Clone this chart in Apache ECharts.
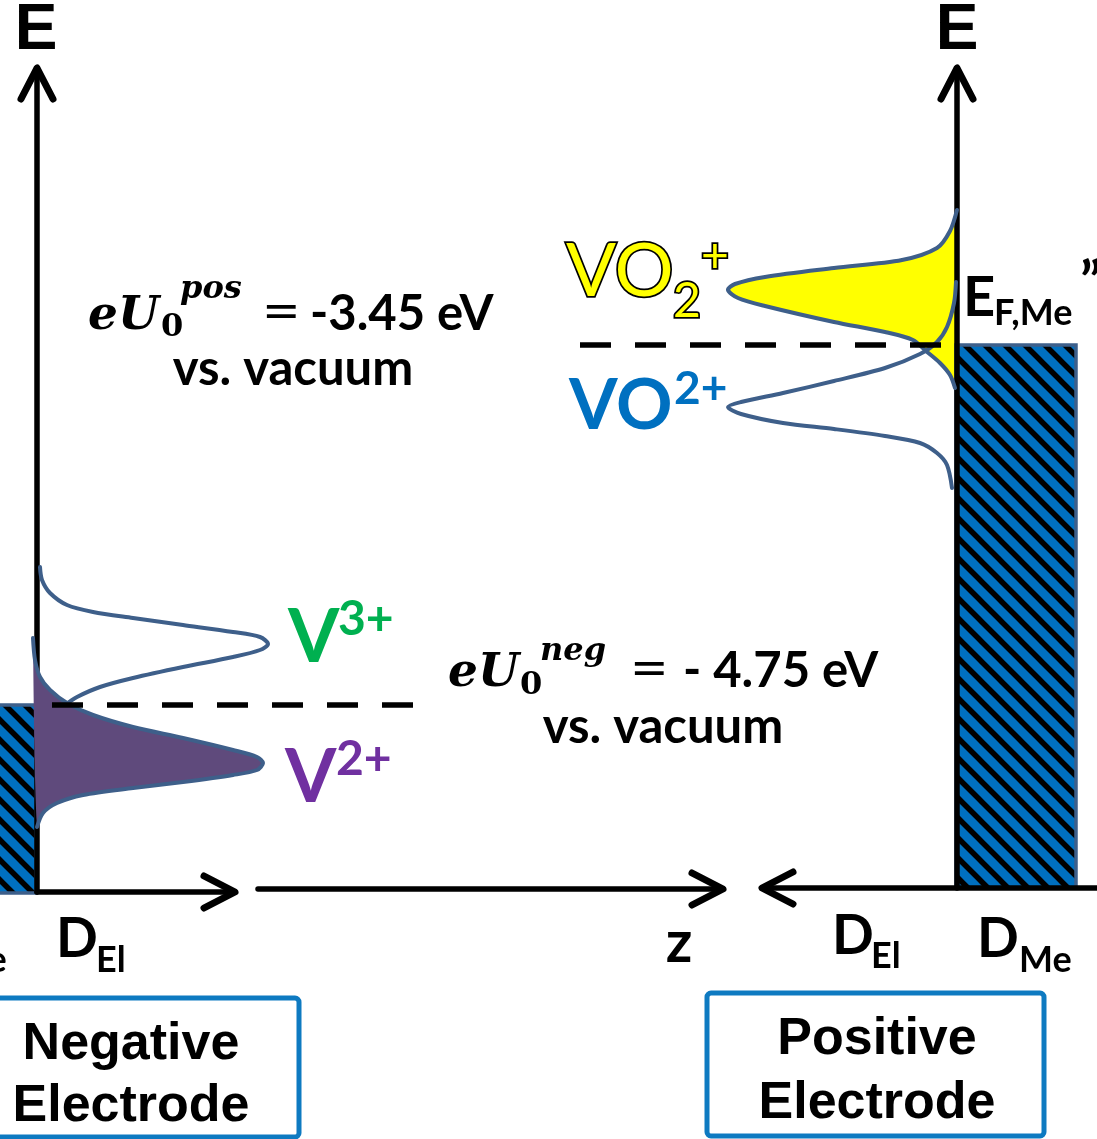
<!DOCTYPE html>
<html><head><meta charset="utf-8">
<script src="https://cdn.jsdelivr.net/npm/echarts@6/dist/echarts.min.js"></script>
<style>html,body{margin:0;padding:0;background:#fff;overflow:hidden}#chart{width:1097px;height:1139px}</style>
</head><body><div id="chart"></div>
<script>
// Diagram space: x = position along z, y = depth below top of diagram (energy decreases downward)
const xDomain = [0, 1097];
const yDomain = [0, 1139];

// Axis arrows: [xTail, yTail, xHead, yHead]
const axisArrows = [
  [37, 892, 37, 68],
  [957, 888, 957, 68],
  [37, 892, 235, 892],
  [258, 889, 723, 889],
  [1097, 888, 762, 888]
];

// Equilibrium potential levels (dashed): [xStart, xEnd, y]
const potentialLevels = [
  [580, 946, 345],
  [52, 415, 705]
];

// Metal electrode bands: [xLeft, xRight, yTop, yBottom]
const metalBands = [
  [-10, 36, 705, 893],
  [956, 1076, 345, 888]
];

// Density-of-states curves, points [x, y]
const dosVO2plus = [[957,210],[950,231],[937,248],[902,260],[834,268],[765,277],[735,284],[728,290],[738,298],[765,306],[834,322],[885,332],[913,340],[926,351],[940,363],[950,375],[955,388]];
const dosVO2p = [[956,282],[954,303],[947,327],[937,342],[920,354],[885,368],[834,381],[783,393],[741,402],[728,407],[741,414],[783,423],[834,429],[885,436],[920,443],[937,453],[947,465],[952,488]];
const dosV3 = [[40,567],[42,580],[50,593],[67,605],[93,612],[133,618],[183,625],[233,632],[260,637],[268,644],[260,650],[233,657],[183,667],[133,678],[100,687],[77,697],[65,705]];
const dosV2 = [[33,638],[35,660],[40,677],[50,690],[67,703],[93,715],[133,727],[183,738],[233,750],[257,757],[263,763],[257,770],[233,775],[183,782],[133,788],[83,795],[57,803],[43,813],[37,827]];

// Electrode caption boxes: [xLeft, xRight, yTop, yBottom]
const electrodeBoxes = [
  [-10, 299, 998, 1137],
  [707, 1044, 993, 1136]
];

// Text annotations: [text, x, y, styleKey, align]
const labels = [
  ['E', 36, 31, 'axis', 'center'],
  ['E', 957, 31, 'axis', 'center'],
  ['D', -88, 939, 'dBig', 'left'], ['Me', -46, 960, 'dSub', 'left'],
  ['D', 56, 939, 'dBig', 'left'], ['El', 96, 960, 'dSub', 'left'],
  ['z', 679, 943, 'zLbl', 'center'],
  ['D', 832, 936, 'dBig', 'left'], ['El', 871, 956, 'dSub', 'left'],
  ['D', 977, 939, 'dBig', 'left'], ['Me', 1019, 960, 'dSub', 'left'],
  ['VO', 566, 272, 'voYellow', 'left'], ['2', 673, 302, 'voYellowSub', 'left'], ['+', 701, 257, 'voYellowSub', 'left'],
  ['VO', 569, 406, 'voBlue', 'left'], ['2+', 674, 389, 'voBlueSup', 'left'],
  ['E', 963, 298, 'efBig', 'left'], ['F,Me', 994, 313, 'efSub', 'left'], ['\u201D', 1080, 283, 'efBig', 'left'],
  ['V', 288, 638, 'vGreen', 'left'], ['3+', 338, 620, 'vGreenSup', 'left'],
  ['V', 285, 778, 'vPurple', 'left'], ['2+', 336, 760, 'vPurpleSup', 'left'],
  ['eU', 88, 317, 'mathBig', 'left'], ['0', 161, 328, 'mathSub', 'left'], ['pos', 180, 290, 'mathSup', 'left'],
  ['=', 262, 314, 'mathEq', 'left'], ['-3.45 eV', 310, 314, 'eq', 'left'], ['vs. vacuum', 293, 369, 'eq', 'center'],
  ['eU', 448, 674, 'mathBig', 'left'], ['0', 520, 686, 'mathSub', 'left'], ['neg', 540, 652, 'mathSup', 'left'],
  ['=', 630, 671, 'mathEq', 'left'], ['- 4.75 eV', 683, 671, 'eq', 'left'], ['vs. vacuum', 663, 727, 'eq', 'center'],
  ['Negative', 131, 1045, 'box', 'center'], ['Electrode', 131, 1107, 'box', 'center'],
  ['Positive', 877, 1040, 'box', 'center'], ['Electrode', 877, 1104, 'box', 'center']
];

// ---------- styles ----------
const C = {
  axis: '#000', curve: '#3E5F8A', yellow: '#FFFF00', purpleFill: '#5F4A7C',
  metalBlue: '#0070C0', metalEdge: '#3D5F8A', box: '#0E7AC1'
};
const textStyles = {
  axis: { font: 'bold 64px "Liberation Sans", Arial', fill: '#000' },
  dBig: { font: 'bold 55px Lato', fill: '#000' },
  dSub: { font: 'bold 36px Lato', fill: '#000' },
  zLbl: { font: 'bold 58px Lato', fill: '#000' },
  voYellow: { font: '74px Lato', fill: '#FFFF00', stroke: '#000', lineWidth: 3.5 },
  voYellowSub: { font: '48px Lato', fill: '#FFFF00', stroke: '#000', lineWidth: 3.5 },
  voBlue: { font: 'bold 70px Lato', fill: '#0070C0' },
  voBlueSup: { font: 'bold 46px Lato', fill: '#0070C0' },
  efBig: { font: 'bold 56px Lato', fill: '#000' },
  efSub: { font: 'bold 36px Lato', fill: '#000' },
  vGreen: { font: 'bold 74px Lato', fill: '#00B050' },
  vGreenSup: { font: 'bold 48px Lato', fill: '#00B050' },
  vPurple: { font: 'bold 74px Lato', fill: '#7030A0' },
  vPurpleSup: { font: 'bold 48px Lato', fill: '#7030A0' },
  mathBig: { font: 'italic bold 47px "DejaVu Serif"', fill: '#000' },
  mathSub: { font: 'bold 32px "DejaVu Serif"', fill: '#000' },
  mathSup: { font: 'italic bold 32px "DejaVu Serif"', fill: '#000' },
  mathEq: { font: '46px "DejaVu Serif"', fill: '#000' },
  eq: { font: 'bold 49px Lato', fill: '#000' },
  box: { font: 'bold 52px "Liberation Sans", Arial', fill: '#000' }
};

function hatchPattern() {
  const s = 20;
  const cv = document.createElement('canvas');
  cv.width = s; cv.height = s;
  const g = cv.getContext('2d');
  g.fillStyle = C.metalBlue; g.fillRect(0, 0, s, s);
  g.strokeStyle = '#000'; g.lineWidth = 5.5;
  g.beginPath();
  for (let k = -1; k <= 1; k++) { g.moveTo(-3, k * s - 3); g.lineTo(s + 3, k * s + s + 3); }
  g.stroke();
  return { image: cv, repeat: 'repeat' };
}
const hatch = hatchPattern();

function custom(z, data, renderItem) {
  return { type: 'custom', coordinateSystem: 'cartesian2d', z: z, data: data, renderItem: renderItem,
           clip: false, silent: true, animation: false };
}
function mapPts(api, pts) { return pts.map(p => api.coord(p)); }

function fillSeries(z, pts, color) {
  return custom(z, [[pts[0][0], pts[0][1]]], (params, api) => ({
    type: 'polygon', shape: { points: mapPts(api, pts), smooth: 0.3 },
    style: { fill: color, stroke: null }
  }));
}
function outlineSeries(z, pts) {
  return custom(z, [[pts[0][0], pts[0][1]]], (params, api) => ({
    type: 'polyline', shape: { points: mapPts(api, pts), smooth: 0.3 },
    style: { fill: null, stroke: C.curve, lineWidth: 4, lineJoin: 'round', lineCap: 'round' }
  }));
}

const option = {
  animation: false,
  grid: { left: 0, right: 0, top: 0, bottom: 0 },
  xAxis: { type: 'value', min: xDomain[0], max: xDomain[1], show: false },
  yAxis: { type: 'value', min: yDomain[0], max: yDomain[1], inverse: true, show: false },
  series: [
    fillSeries(1, dosVO2plus, C.yellow),
    custom(2, metalBands, (params, api) => {
      const a = api.coord([api.value(0), api.value(2)]);
      const b = api.coord([api.value(1), api.value(3)]);
      return { type: 'rect', shape: { x: a[0], y: a[1], width: b[0] - a[0], height: b[1] - a[1] },
               style: { fill: hatch, stroke: C.metalEdge, lineWidth: 3.5 } };
    }),
    custom(3, axisArrows, (params, api) => {
      const a = api.coord([api.value(0), api.value(1)]);
      const b = api.coord([api.value(2), api.value(3)]);
      const dx = b[0] - a[0], dy = b[1] - a[1], L = Math.hypot(dx, dy);
      const ux = dx / L, uy = dy / L, hl = 31, hw = 16;
      const w1 = [b[0] - ux * hl - uy * hw, b[1] - uy * hl + ux * hw];
      const w2 = [b[0] - ux * hl + uy * hw, b[1] - uy * hl - ux * hw];
      return { type: 'group', children: [
        { type: 'line', shape: { x1: a[0], y1: a[1], x2: b[0], y2: b[1] },
          style: { stroke: C.axis, lineWidth: 5.5, lineCap: 'round' } },
        { type: 'polyline', shape: { points: [w1, b, w2] },
          style: { stroke: C.axis, lineWidth: 7, lineCap: 'round', lineJoin: 'round', fill: null } }
      ] };
    }),
    fillSeries(4, dosV2, C.purpleFill),
    outlineSeries(5, dosVO2plus),
    outlineSeries(5, dosVO2p),
    outlineSeries(5, dosV3),
    outlineSeries(5, dosV2),
    custom(6, potentialLevels, (params, api) => {
      const a = api.coord([api.value(0), api.value(2)]);
      const b = api.coord([api.value(1), api.value(2)]);
      return { type: 'line', shape: { x1: a[0], y1: a[1], x2: b[0], y2: b[1] },
               style: { stroke: '#000', lineWidth: 5.5, lineDash: [31, 24], lineCap: 'butt' } };
    }),
    custom(6, electrodeBoxes, (params, api) => {
      const a = api.coord([api.value(0), api.value(2)]);
      const b = api.coord([api.value(1), api.value(3)]);
      return { type: 'rect', shape: { x: a[0], y: a[1], width: b[0] - a[0], height: b[1] - a[1], r: 4 },
               style: { fill: null, stroke: C.box, lineWidth: 5 } };
    }),
    custom(7, labels.map(l => [l[1], l[2]]), (params, api) => {
      const l = labels[params.dataIndex];
      const p = api.coord([api.value(0), api.value(1)]);
      return { type: 'text', x: p[0], y: p[1],
               style: Object.assign({ text: l[0], align: l[4], verticalAlign: 'middle' }, textStyles[l[3]]) };
    })
  ]
};

const chart = echarts.init(document.getElementById('chart'), null, { renderer: 'canvas' });
chart.setOption(option);
</script>
</body></html>
